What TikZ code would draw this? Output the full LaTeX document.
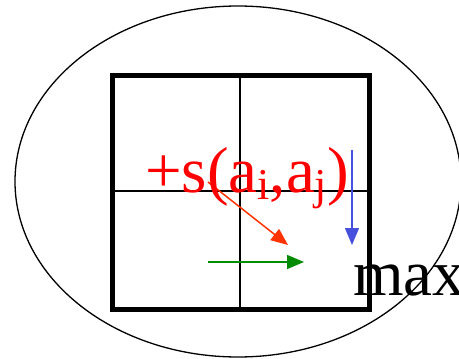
\documentclass[tikz,border=0pt]{standalone}
\usepackage{fontspec}
\setmainfont{Liberation Serif}
\usetikzlibrary{arrows.meta}
\definecolor{scorered}{HTML}{FF3300}
\definecolor{downblue}{HTML}{4650DC}
\definecolor{rightgreen}{HTML}{008C00}
\newcommand{\lowsub}[1]{\raisebox{-7pt}{\fontsize{44}{44}\selectfont #1}}

\begin{document}
\begin{tikzpicture}[x=1pt,y=-1pt,
  big/.style={inner sep=0pt,anchor=base west,font=\fontsize{65}{70}\selectfont},
  move/.style={line width=1.5pt,-{Triangle[length=17pt,width=14pt]}}]
\useasboundingbox(0,0)rectangle(459,359);
\draw[line width=1.3pt](238,181.5)ellipse[x radius=223,y radius=175.5];
% the 2x2 table
\draw[line width=2pt](240,75)--(240,309);
\draw[line width=2pt](112,191)--(369,191);
\draw[line width=5pt](112,75)rectangle(369,309);
% moves into a cell
\coordinate(diagfrom)at(208,182);\coordinate(diagto)at(288,245);
\coordinate(upfrom)at(352,150);\coordinate(upto)at(352,245);
\coordinate(leftfrom)at(208,262);\coordinate(leftto)at(304,262);
\draw[move,scorered](diagfrom)--(diagto);
\draw[move,downblue](upfrom)--(upto);
\draw[move,rightgreen](leftfrom)--(leftto);
\node[big,text=red](score)at(145,192){+s(a\lowsub{i},a\lowsub{j})};
\node[big](maxlabel)at(353,295){max};
\end{tikzpicture}
\end{document}
